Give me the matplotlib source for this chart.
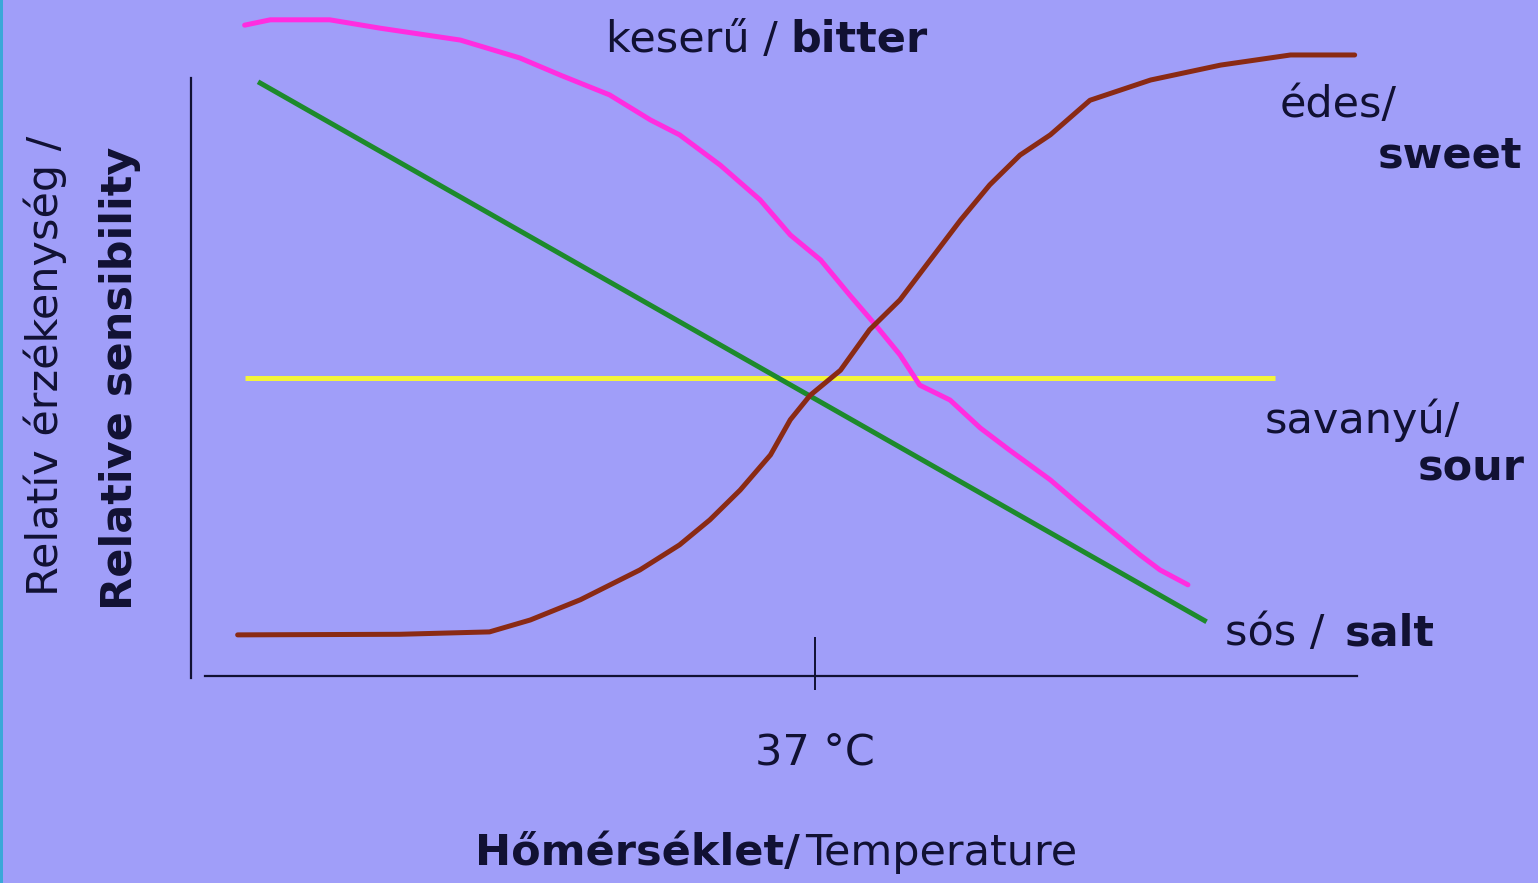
import matplotlib.pyplot as plt

W, H = 1538, 883

# relative temperature (arbitrary units, 0 = y axis) and relative sensibility
bitter_x = [4.6, 6.8, 11.9, 16.2, 23.1, 28.2, 31.7, 35.9, 39.4, 41.9, 45.4, 48.8, 51.4,
            54.0, 56.5, 58.7, 60.8, 62.5, 65.1, 67.7, 70.2, 73.7, 76.2, 78.8, 81.4, 83.1, 85.5]
bitter_y = [109.2, 110.1, 110.1, 108.7, 106.7, 103.7, 100.8, 97.5, 93.3, 90.8, 85.7, 79.9, 74.0,
            69.8, 63.9, 58.9, 53.9, 48.8, 46.3, 41.6, 37.9, 32.9, 28.7, 24.5, 20.3, 17.8, 15.3]

sweet_x = [4.0, 17.9, 25.6, 29.1, 33.4, 38.5, 41.9, 44.5, 47.1, 49.7, 51.4, 53.1, 55.7,
           58.2, 60.8, 63.4, 66.0, 68.5, 71.1, 73.7, 77.1, 82.3, 88.3, 94.3, 99.8]
sweet_y = [6.9, 7.0, 7.4, 9.4, 12.8, 17.8, 22.0, 26.2, 31.2, 37.1, 43.0, 47.1, 51.3,
           58.1, 63.1, 69.8, 76.5, 82.4, 87.4, 90.8, 96.6, 100.0, 102.5, 104.2, 104.2]

salt_x = [5.75, 87.1]
salt_y = [99.7, 9.1]

sour_x = [4.6, 93.0]
sour_y = [50.0, 50.0]

tick_37 = 53.5
tick_label = '37 °C'

# pixel mapping of the data box
X0_PX, Y0_PX = 191, 676
PX_X, PX_Y = 11.66, 5.96

bg = '#a09ef9'
ink = '#111133'
FS = 31

fig = plt.figure(figsize=(W / 100, H / 100), dpi=100)
fig.patch.set_facecolor(bg)
ax = fig.add_axes([0, 0, 1, 1])
ax.set_facecolor(bg)
ax.set_xlim(-X0_PX / PX_X, (W - X0_PX) / PX_X)
ax.set_ylim(-(H - Y0_PX) / PX_Y, Y0_PX / PX_Y)

ax.plot(sour_x, sour_y, color='#f4f43a', lw=3.6, solid_capstyle='butt')
ax.plot(salt_x, salt_y, color='#1d8a2c', lw=3.6, solid_capstyle='butt')
ax.plot(bitter_x, bitter_y, color='#ff2de0', lw=3.6, solid_capstyle='round', solid_joinstyle='round')
ax.plot(sweet_x, sweet_y, color='#8a2a14', lw=3.6, solid_capstyle='round', solid_joinstyle='round')

for s in ['top', 'right']:
    ax.spines[s].set_visible(False)
ax.spines['left'].set_position(('data', 0))
ax.spines['left'].set_bounds(-0.3, 100.3)
ax.spines['bottom'].set_position(('data', 0))
ax.spines['bottom'].set_bounds(1.2, 100.0)
for s in ['left', 'bottom']:
    ax.spines[s].set_color(ink)
    ax.spines[s].set_linewidth(1.6)

ax.vlines(tick_37, -2.3, 6.5, color=ink, lw=1.4)
ax.set_xticks([tick_37], [tick_label])
ax.tick_params(axis='x', length=0, pad=40, labelsize=FS, labelcolor=ink)
ax.set_yticks([])


def px(x, y):
    return x / W, 1 - y / H


def put(x, y, s, bold=False, size=FS, **kw):
    fig.text(*px(x, y), s, fontsize=size, color=ink,
             fontweight='bold' if bold else 'normal', va='center', **kw)


put(778, 40, 'keserű /', ha='right')
put(790, 40, 'bitter', bold=True, ha='left')
put(1280, 105, 'édes/', ha='left')
put(1522, 155, 'sweet', bold=True, ha='right')
put(1265, 420, 'savanyú/', ha='left')
put(1525, 468, 'sour', bold=True, ha='right')
put(1225, 633, 'sós /', ha='left')
put(1345, 633, 'salt', bold=True, ha='left')
put(800, 853, 'Hőmérséklet/', bold=True, ha='right')
put(805, 853, 'Temperature', ha='left')
put(45, 366, 'Relatív érzékenység /', rotation=90, ha='center')
put(120, 378, 'Relative sensibility', bold=True, rotation=90, ha='center')

# thin coloured border on the left edge
fig.add_artist(plt.Rectangle((0, 0), 3 / W, 1, transform=fig.transFigure,
                             color='#3aa8d8', lw=0))

fig.savefig('out.png', dpi=100, facecolor=bg)
